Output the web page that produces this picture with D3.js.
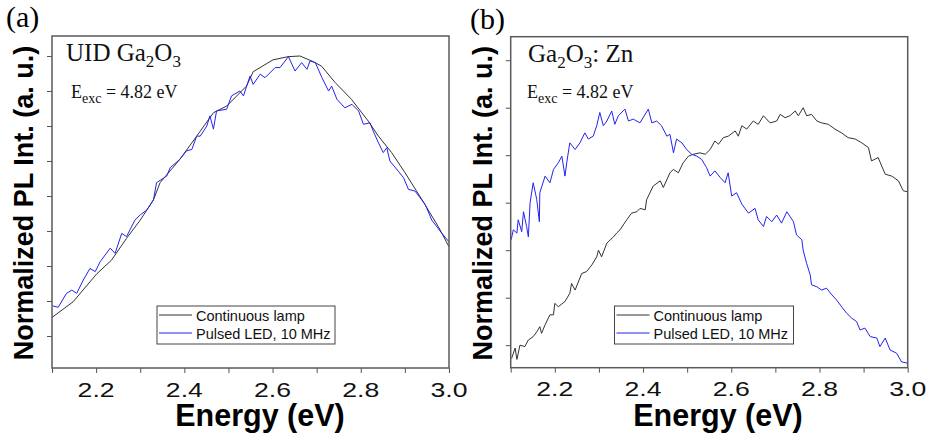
<!DOCTYPE html>
<html>
<head>
<meta charset="utf-8">
<script src="https://cdn.jsdelivr.net/npm/d3@7"></script>
<style>
  body { margin: 0; background: #fff; }
  svg { display: block; }
</style>
</head>
<body>
<div id="chart"></div>
<script>
// values: [energy (eV), normalized PL]
var lampA = [[2.100,0.253],[2.148,0.298],[2.201,0.377],[2.235,0.417],[2.269,0.479],[2.300,0.531],
  [2.330,0.589],[2.345,0.638],[2.390,0.705],[2.428,0.771],[2.466,0.838],[2.496,0.857],[2.541,0.914],
  [2.556,0.955],[2.601,0.989],[2.635,0.998],[2.662,1.000],[2.692,0.984],[2.711,0.971],[2.742,0.924],
  [2.779,0.876],[2.817,0.814],[2.840,0.771],[2.870,0.724],[2.900,0.667],[2.938,0.591],[2.976,0.512],
  [3.000,0.455]]

var ledA = [[2.102,0.286],[2.114,0.282],[2.133,0.322],[2.145,0.331],[2.156,0.322],[2.171,0.360],
  [2.186,0.393],[2.198,0.384],[2.209,0.412],[2.232,0.451],[2.243,0.436],[2.258,0.493],[2.269,0.484],
  [2.288,0.531],[2.300,0.546],[2.315,0.560],[2.330,0.589],[2.337,0.638],[2.360,0.657],[2.368,0.681],
  [2.390,0.705],[2.405,0.729],[2.417,0.733],[2.428,0.771],[2.436,0.771],[2.451,0.800],[2.458,0.829],
  [2.466,0.791],[2.473,0.843],[2.496,0.848],[2.507,0.886],[2.526,0.900],[2.534,0.886],[2.549,0.943],
  [2.556,0.919],[2.572,0.948],[2.583,0.938],[2.606,0.967],[2.617,0.967],[2.636,0.998],[2.651,0.957],
  [2.666,0.981],[2.678,0.962],[2.685,0.986],[2.697,0.981],[2.712,0.938],[2.727,0.900],[2.734,0.914],
  [2.746,0.876],[2.764,0.852],[2.780,0.862],[2.795,0.843],[2.806,0.805],[2.821,0.809],[2.828,0.786],
  [2.840,0.752],[2.851,0.724],[2.859,0.738],[2.866,0.700],[2.885,0.671],[2.897,0.652],[2.908,0.619],
  [2.923,0.614],[2.946,0.576],[2.961,0.531],[2.984,0.493],[3.000,0.469]]

var lampB = [[2.102,0.472],[2.110,0.494],[2.114,0.470],[2.121,0.500],[2.132,0.497],[2.140,0.511],
  [2.151,0.518],[2.159,0.528],[2.166,0.539],[2.170,0.525],[2.178,0.543],[2.189,0.564],[2.197,0.564],
  [2.200,0.588],[2.208,0.581],[2.223,0.592],[2.234,0.609],[2.238,0.630],[2.246,0.616],[2.261,0.651],
  [2.272,0.655],[2.284,0.669],[2.295,0.686],[2.299,0.700],[2.306,0.686],[2.318,0.715],[2.333,0.728],
  [2.340,0.736],[2.348,0.743],[2.363,0.764],[2.374,0.778],[2.386,0.781],[2.393,0.788],[2.405,0.785],
  [2.408,0.806],[2.423,0.835],[2.439,0.846],[2.446,0.832],[2.461,0.863],[2.469,0.870],[2.480,0.863],
  [2.491,0.884],[2.503,0.898],[2.514,0.902],[2.529,0.905],[2.541,0.902],[2.552,0.912],[2.563,0.930],
  [2.571,0.923],[2.582,0.937],[2.593,0.940],[2.609,0.951],[2.616,0.940],[2.624,0.962],[2.635,0.955],
  [2.650,0.972],[2.661,0.965],[2.673,0.983],[2.688,0.968],[2.703,0.972],[2.711,0.986],[2.722,0.979],
  [2.733,0.983],[2.745,0.993],[2.752,0.983],[2.763,1.000],[2.771,0.983],[2.782,0.986],[2.794,0.972],
  [2.805,0.968],[2.820,0.965],[2.835,0.955],[2.850,0.947],[2.865,0.937],[2.881,0.934],[2.896,0.926],
  [2.911,0.916],[2.918,0.888],[2.933,0.895],[2.949,0.860],[2.964,0.856],[2.979,0.846],[2.990,0.825],
  [3.000,0.823]]

var ledB = [[2.101,0.722],[2.106,0.743],[2.114,0.736],[2.117,0.764],[2.125,0.739],[2.129,0.781],
  [2.136,0.750],[2.140,0.728],[2.144,0.800],[2.151,0.842],[2.159,0.807],[2.165,0.760],[2.166,0.821],
  [2.178,0.856],[2.189,0.842],[2.197,0.870],[2.208,0.884],[2.216,0.898],[2.223,0.856],[2.227,0.884],
  [2.234,0.926],[2.246,0.912],[2.257,0.926],[2.268,0.947],[2.276,0.934],[2.287,0.940],[2.295,0.962],
  [2.302,0.990],[2.310,0.962],[2.318,0.972],[2.329,0.993],[2.336,0.965],[2.344,0.983],[2.359,0.997],
  [2.367,0.972],[2.378,0.976],[2.393,0.968],[2.412,0.997],[2.420,0.968],[2.431,0.972],[2.442,0.962],
  [2.454,0.940],[2.461,0.944],[2.469,0.905],[2.476,0.934],[2.488,0.926],[2.499,0.912],[2.510,0.902],
  [2.522,0.898],[2.533,0.891],[2.544,0.874],[2.552,0.856],[2.563,0.867],[2.575,0.853],[2.586,0.842],
  [2.593,0.863],[2.601,0.814],[2.612,0.821],[2.624,0.797],[2.639,0.778],[2.654,0.788],[2.661,0.764],
  [2.673,0.750],[2.680,0.771],[2.692,0.760],[2.703,0.774],[2.714,0.757],[2.726,0.781],[2.741,0.760],
  [2.748,0.732],[2.760,0.722],[2.763,0.700],[2.771,0.672],[2.779,0.648],[2.782,0.627],[2.794,0.623],
  [2.805,0.616],[2.816,0.620],[2.828,0.606],[2.839,0.595],[2.850,0.581],[2.862,0.567],[2.873,0.557],
  [2.884,0.550],[2.892,0.532],[2.903,0.536],[2.915,0.518],[2.930,0.515],[2.937,0.497],[2.949,0.515],
  [2.960,0.490],[2.975,0.483],[2.986,0.465],[3.000,0.462]]

var seriesNames = ['Continuous lamp', 'Pulsed LED, 10 MHz']
var seriesColors = ['#333333', '#2323f0']
var xTicks = [2.1, 2.2, 2.3, 2.4, 2.5, 2.6, 2.7, 2.8, 2.9, 3.0]
var xLabelTicks = [2.2, 2.4, 2.6, 2.8, 3.0]
var yTicksA = [0.2, 0.3, 0.4, 0.5, 0.6, 0.7, 0.8, 0.9, 1.0]
var yTicksB = [0.5, 0.6, 0.7, 0.8, 0.9, 1.0, 1.1]

var sans = '"Liberation Sans", Arial, sans-serif'
var serif = '"Liberation Serif", "Times New Roman", serif'

var svg = d3.select('#chart').append('svg')
    .attr('width', 930)
    .attr('height', 435)

svg.append('rect').attr('width', 930).attr('height', 435).attr('fill', '#fff')

var panels = [
    {
        tag: '(a)', tagX: 6, tagY: 27,
        left: 52, right: 449, top: 36, bottom: 368,
        yDomain: [0.1086, 1.0571], yTicks: yTicksA,
        series: [lampA, ledA],
        title: [['UID Ga', 0], ['2', 1], ['O', 0], ['3', 1]], titleX: 66, titleY: 61,
        excX: 71, excY: 98,
        yLabelX: 33, xLabelX: 260,
        legend: {x: 157, y: 306, w: 178, h: 38}
    },
    {
        tag: '(b)', tagX: 470, tagY: 29,
        left: 510.7, right: 907.7, top: 36.7, bottom: 367.7,
        yDomain: [0.4526, 1.1495], yTicks: yTicksB,
        series: [lampB, ledB],
        title: [['Ga', 0], ['2', 1], ['O', 0], ['3', 1], [': Zn', 0]], titleX: 528, titleY: 62,
        excX: 527, excY: 98,
        yLabelX: 492, xLabelX: 718,
        legend: {x: 614.5, y: 306, w: 179, h: 38}
    }
]

panels.forEach(drawPanel)

function drawPanel(p) {
    var x = d3.scaleLinear().domain([2.1, 3.0]).range([p.left, p.right])
    var y = d3.scaleLinear().domain(p.yDomain).range([p.bottom, p.top])
    var g = svg.append('g')

    // curves
    var line = d3.line().x(d => x(d[0])).y(d => y(d[1]))
    p.series.forEach((s, i) => {
        g.append('path')
            .datum(s)
            .attr('d', line)
            .attr('fill', 'none')
            .attr('stroke', seriesColors[i])
            .attr('stroke-width', 1)
            .attr('stroke-linejoin', 'round')
    })

    // axes
    var xAxis = g.append('g')
        .attr('transform', 'translate(0,' + p.bottom + ')')
        .call(d3.axisBottom(x).tickValues(xTicks).tickSize(5).tickFormat(''))
    xAxis.select('.domain').remove()
    xAxis.selectAll('line').attr('stroke', '#555')

    g.selectAll('.xlab')
        .data(xLabelTicks)
        .enter()
        .append('text')
        .attr('x', d => x(d))
        .attr('y', p.bottom + 28.5)
        .attr('text-anchor', 'middle')
        .attr('font-family', sans)
        .attr('font-size', 20.5)
        .attr('textLength', 37)
        .attr('lengthAdjust', 'spacingAndGlyphs')
        .attr('fill', '#111')
        .text(d => d.toFixed(1))

    var yAxis = g.append('g')
        .attr('transform', 'translate(' + p.left + ',0)')
        .call(d3.axisLeft(y).tickValues(p.yTicks).tickSize(5).tickFormat(''))
    yAxis.select('.domain').remove()
    yAxis.selectAll('line').attr('stroke', '#555')

    // frame
    g.append('rect')
        .attr('x', p.left).attr('y', p.top)
        .attr('width', p.right - p.left).attr('height', p.bottom - p.top)
        .attr('fill', 'none')
        .attr('stroke', '#5a5a5a')
        .attr('stroke-width', 1.5)

    // panel tag
    svg.append('text')
        .attr('x', p.tagX).attr('y', p.tagY)
        .attr('font-family', serif)
        .attr('font-size', 30)
        .text(p.tag)

    // sample title with subscripts
    var t = svg.append('text')
        .attr('x', p.titleX).attr('y', p.titleY)
        .attr('font-family', serif)
        .attr('font-size', 25)
        .attr('fill', '#111')
    var low = 0
    p.title.forEach(part => {
        var shift = (part[1] ? 6 : 0) - low
        low = part[1] ? 6 : 0
        t.append('tspan')
            .attr('dy', shift)
            .attr('font-size', part[1] ? 17 : 25)
            .text(part[0])
    })

    var e = svg.append('text')
        .attr('x', p.excX).attr('y', p.excY)
        .attr('font-family', serif)
        .attr('font-size', 18)
        .attr('fill', '#111')
    e.append('tspan').text('E')
    e.append('tspan').attr('dy', 5).attr('font-size', 14).text('exc')
    e.append('tspan').attr('dy', -5).text(' = 4.82 eV')

    // axis titles
    svg.append('text')
        .attr('transform', 'translate(' + p.yLabelX + ',' + ((p.top + p.bottom) / 2 + 1) + ') rotate(-90)')
        .attr('text-anchor', 'middle')
        .attr('font-family', sans)
        .attr('font-weight', 'bold')
        .attr('font-size', 27)
        .text('Normalized PL Int. (a. u.)')

    svg.append('text')
        .attr('x', p.xLabelX).attr('y', 426)
        .attr('text-anchor', 'middle')
        .attr('font-family', sans)
        .attr('font-weight', 'bold')
        .attr('font-size', 30.5)
        .text('Energy (eV)')

    // legend
    var L = p.legend
    var lg = svg.append('g').attr('transform', 'translate(' + L.x + ',' + L.y + ')')
    lg.append('rect')
        .attr('width', L.w).attr('height', L.h)
        .attr('fill', '#fff')
        .attr('stroke', '#444')
        .attr('stroke-width', 1)
    seriesNames.forEach((name, i) => {
        lg.append('line')
            .attr('x1', 2).attr('x2', 35)
            .attr('y1', 9 + i * 18).attr('y2', 9 + i * 18)
            .attr('stroke', seriesColors[i])
            .attr('stroke-width', 1)
        lg.append('text')
            .attr('x', 39).attr('y', 14.5 + i * 18)
            .attr('font-family', sans)
            .attr('font-size', 14.5)
            .attr('fill', '#111')
            .text(name)
    })
}
</script>
</body>
</html>
